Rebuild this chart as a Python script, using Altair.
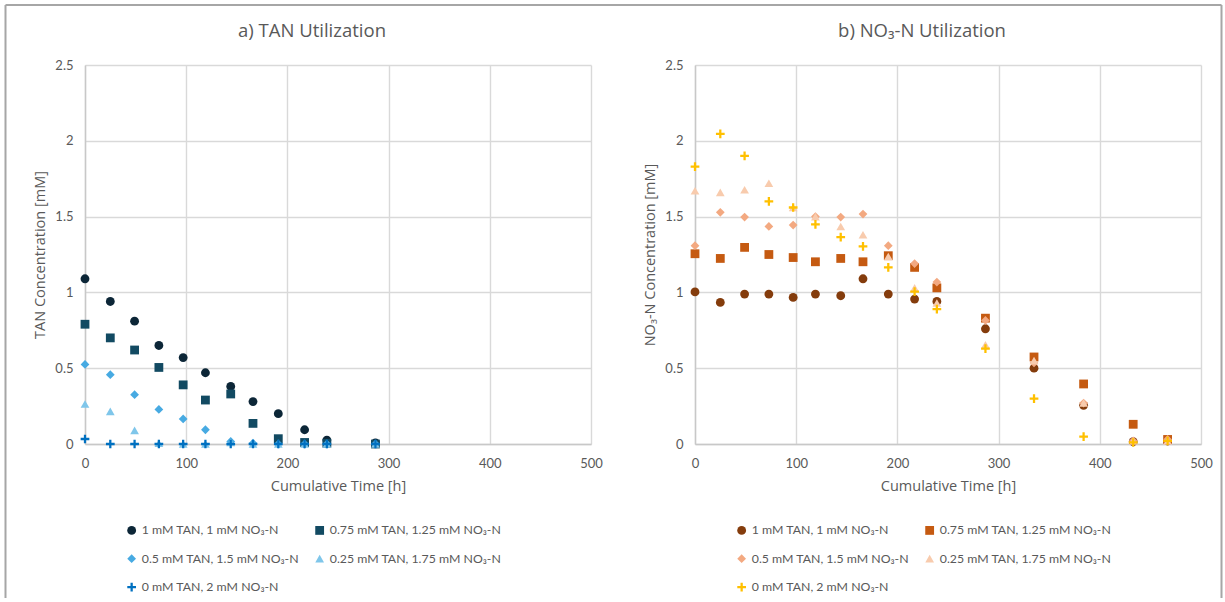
import altair as alt
import pandas as pd

# ---------------- data ----------------
TIME_A = [0, 25, 49, 73, 97, 119, 144, 166, 191, 217, 239, 287]
A_1 = [1.09, 0.94, 0.81, 0.65, 0.57, 0.47, 0.38, 0.28, 0.20, 0.094, 0.026, 0.007]
A_075 = [0.79, 0.70, 0.62, 0.505, 0.39, 0.29, 0.33, 0.136, 0.035, 0.01, 0.005, 0.0]
A_05 = [0.525, 0.457, 0.325, 0.228, 0.165, 0.094, 0.017, 0.005, 0.0, 0.0, 0.0, 0.0]
A_025 = [0.264, 0.215, 0.09, 0.005, 0.0, 0.0, 0.01, 0.0, 0.0, 0.0, 0.0, 0.0]
A_0 = [0.033, 0.0, 0.0, 0.0, 0.0, 0.0, 0.0, 0.0, 0.0, 0.0, 0.0, 0.0]

TIME_B = [0, 25, 49, 73, 97, 119, 144, 166, 191, 217, 239, 287, 335, 384, 433, 467]
B_1 = [1.003, 0.934, 0.989, 0.989, 0.967, 0.989, 0.978, 1.09, 0.989, 0.956, 0.94, 0.76, 0.50, 0.255, 0.015, 0.02]
B_075 = [1.255, 1.224, 1.297, 1.25, 1.23, 1.202, 1.224, 1.202, 1.242, 1.165, 1.03, 0.83, 0.574, 0.396, 0.13, 0.03]
B_05 = [1.308, 1.528, 1.497, 1.435, 1.444, 1.50, 1.497, 1.517, 1.308, 1.19, 1.068, 0.815, 0.535, 0.27, 0.02, 0.03]
B_025 = [1.67, 1.66, 1.677, 1.72, 1.56, 1.50, 1.435, 1.38, 1.237, 1.03, 0.93, 0.655, 0.55, 0.27, 0.02, 0.02]
B_0 = [1.829, 2.046, 1.90, 1.60, 1.56, 1.448, 1.365, 1.303, 1.165, 1.005, 0.89, 0.629, 0.30, 0.049, 0.01, 0.02]

LABELS = [
    "1 mM TAN, 1 mM NO₃-N",
    "0.75 mM TAN, 1.25 mM NO₃-N",
    "0.5 mM TAN, 1.5 mM NO₃-N",
    "0.25 mM TAN, 1.75 mM NO₃-N",
    "0 mM TAN, 2 mM NO₃-N",
]
COLORS_A = ["#0c2637", "#124a62", "#47aae2", "#7fc6ea", "#0070c0"]
COLORS_B = ["#843c0c", "#c55a11", "#f3a981", "#f8cbad", "#ffc000"]

TITLE_A = "a) TAN Utilization"
TITLE_B = "b) NO₃-N Utilization"
YTITLE_A = "TAN Concentration [mM]"
YTITLE_B = "NO₃-N Concentration [mM]"
XTITLE = "Cumulative Time [h]"
X_TICKS = [0, 100, 200, 300, 400, 500]
Y_TICKS = [0, 0.5, 1, 1.5, 2, 2.5]

# ---------------- style ----------------
FONT = "Lato"
TFONT = "Open Sans"
GREY = "#595959"
PLUS = ("M-1,-0.26L-0.26,-0.26L-0.26,-1L0.26,-1L0.26,-0.26L1,-0.26L1,0.26L0.26,0.26"
        "L0.26,1L-0.26,1L-0.26,0.26L-1,0.26Z")
SHAPES = ["circle", "square", "diamond", "triangle-up", PLUS]
SIZES = [78, 76, 90, 95, 130]
W, H = 506, 379


def long_df(times, series, key):
    rows = []
    for lab, vals in zip(LABELS, series):
        for t, v in zip(times, vals):
            rows.append({"t": t, "v": v, key: lab})
    return pd.DataFrame(rows)


def legend():
    return alt.Legend(
        title=None, orient="none", legendX=40.5, legendY=459,
        direction="horizontal", columns=2, columnPadding=14, rowPadding=15.5,
        padding=0, labelLimit=400,
        labelFont=FONT, labelFontSize=12.3, labelColor=GREY,
        labelOffset=4, symbolSize=64, symbolStrokeWidth=0,
        symbolOpacity=1,
    )


one = pd.DataFrame({"a": [0]})


def title_mark(text):
    return alt.Chart(one).mark_text(
        font=TFONT, fontSize=18.5, color=GREY, align="center", baseline="middle"
    ).encode(x=alt.value(227), y=alt.value(-34), text=alt.value(text))


def panel(df, key, colors, title, ytitle, extra=None):
    pts = alt.Chart(df).mark_point(filled=True, opacity=1, strokeWidth=0).encode(
        x=alt.X("t:Q", scale=alt.Scale(domain=[0, 500], nice=False),
                axis=alt.Axis(values=X_TICKS, title=XTITLE)),
        y=alt.Y("v:Q", scale=alt.Scale(domain=[0, 2.5], nice=False),
                axis=alt.Axis(values=Y_TICKS, format="~g", title=ytitle)),
        color=alt.Color(f"{key}:N", scale=alt.Scale(domain=LABELS, range=colors), legend=legend()),
        shape=alt.Shape(f"{key}:N", scale=alt.Scale(domain=LABELS, range=SHAPES), legend=legend()),
        size=alt.Size(f"{key}:N", scale=alt.Scale(domain=LABELS, range=SIZES), legend=None),
    )
    layers = (extra or []) + [title_mark(title), pts]
    return alt.layer(*layers).properties(width=W, height=H)


BORDER = "#a6a6a6"
top = alt.Chart(one).mark_rule(color=BORDER, strokeWidth=2).encode(
    x=alt.value(-79.5), x2=alt.value(1136.5), y=alt.value(-60))
leftb = alt.Chart(one).mark_rule(color=BORDER, strokeWidth=2).encode(
    x=alt.value(-79.5), y=alt.value(-60), y2=alt.value(533))
rightb = alt.Chart(one).mark_rule(color=BORDER, strokeWidth=2).encode(
    x=alt.value(1136.5), y=alt.value(-60), y2=alt.value(533))

df_a = long_df(TIME_A, [A_1, A_075, A_05, A_025, A_0], "sa")
df_b = long_df(TIME_B, [B_1, B_075, B_05, B_025, B_0], "sb")

left = panel(df_a, "sa", COLORS_A, TITLE_A, YTITLE_A, extra=[top, leftb, rightb])
right = panel(df_b, "sb", COLORS_B, TITLE_B, YTITLE_B)

chart = alt.hconcat(left, right, spacing=104, bounds="flush").resolve_scale(
    color="independent", shape="independent", size="independent"
).properties(
    padding={"left": 4, "top": 4, "right": 0, "bottom": 0},
    background="white",
).configure_view(strokeWidth=0).configure_axis(
    grid=True, gridColor="#d9d9d9", gridWidth=1.4,
    domainColor="#c8c8c8", domainWidth=1.4,
    ticks=False, tickSize=0,
    labelFont=FONT, labelFontSize=13, labelColor=GREY, labelFlush=False,
    titleFont=TFONT, titleFontSize=14.5, titleColor=GREY, titleFontWeight="normal",
).configure_axisX(labelPadding=13, titlePadding=9).configure_axisY(
    labelPadding=12, titlePadding=7)

chart.save("out.html", embed_options={"renderer": "svg", "actions": False})
